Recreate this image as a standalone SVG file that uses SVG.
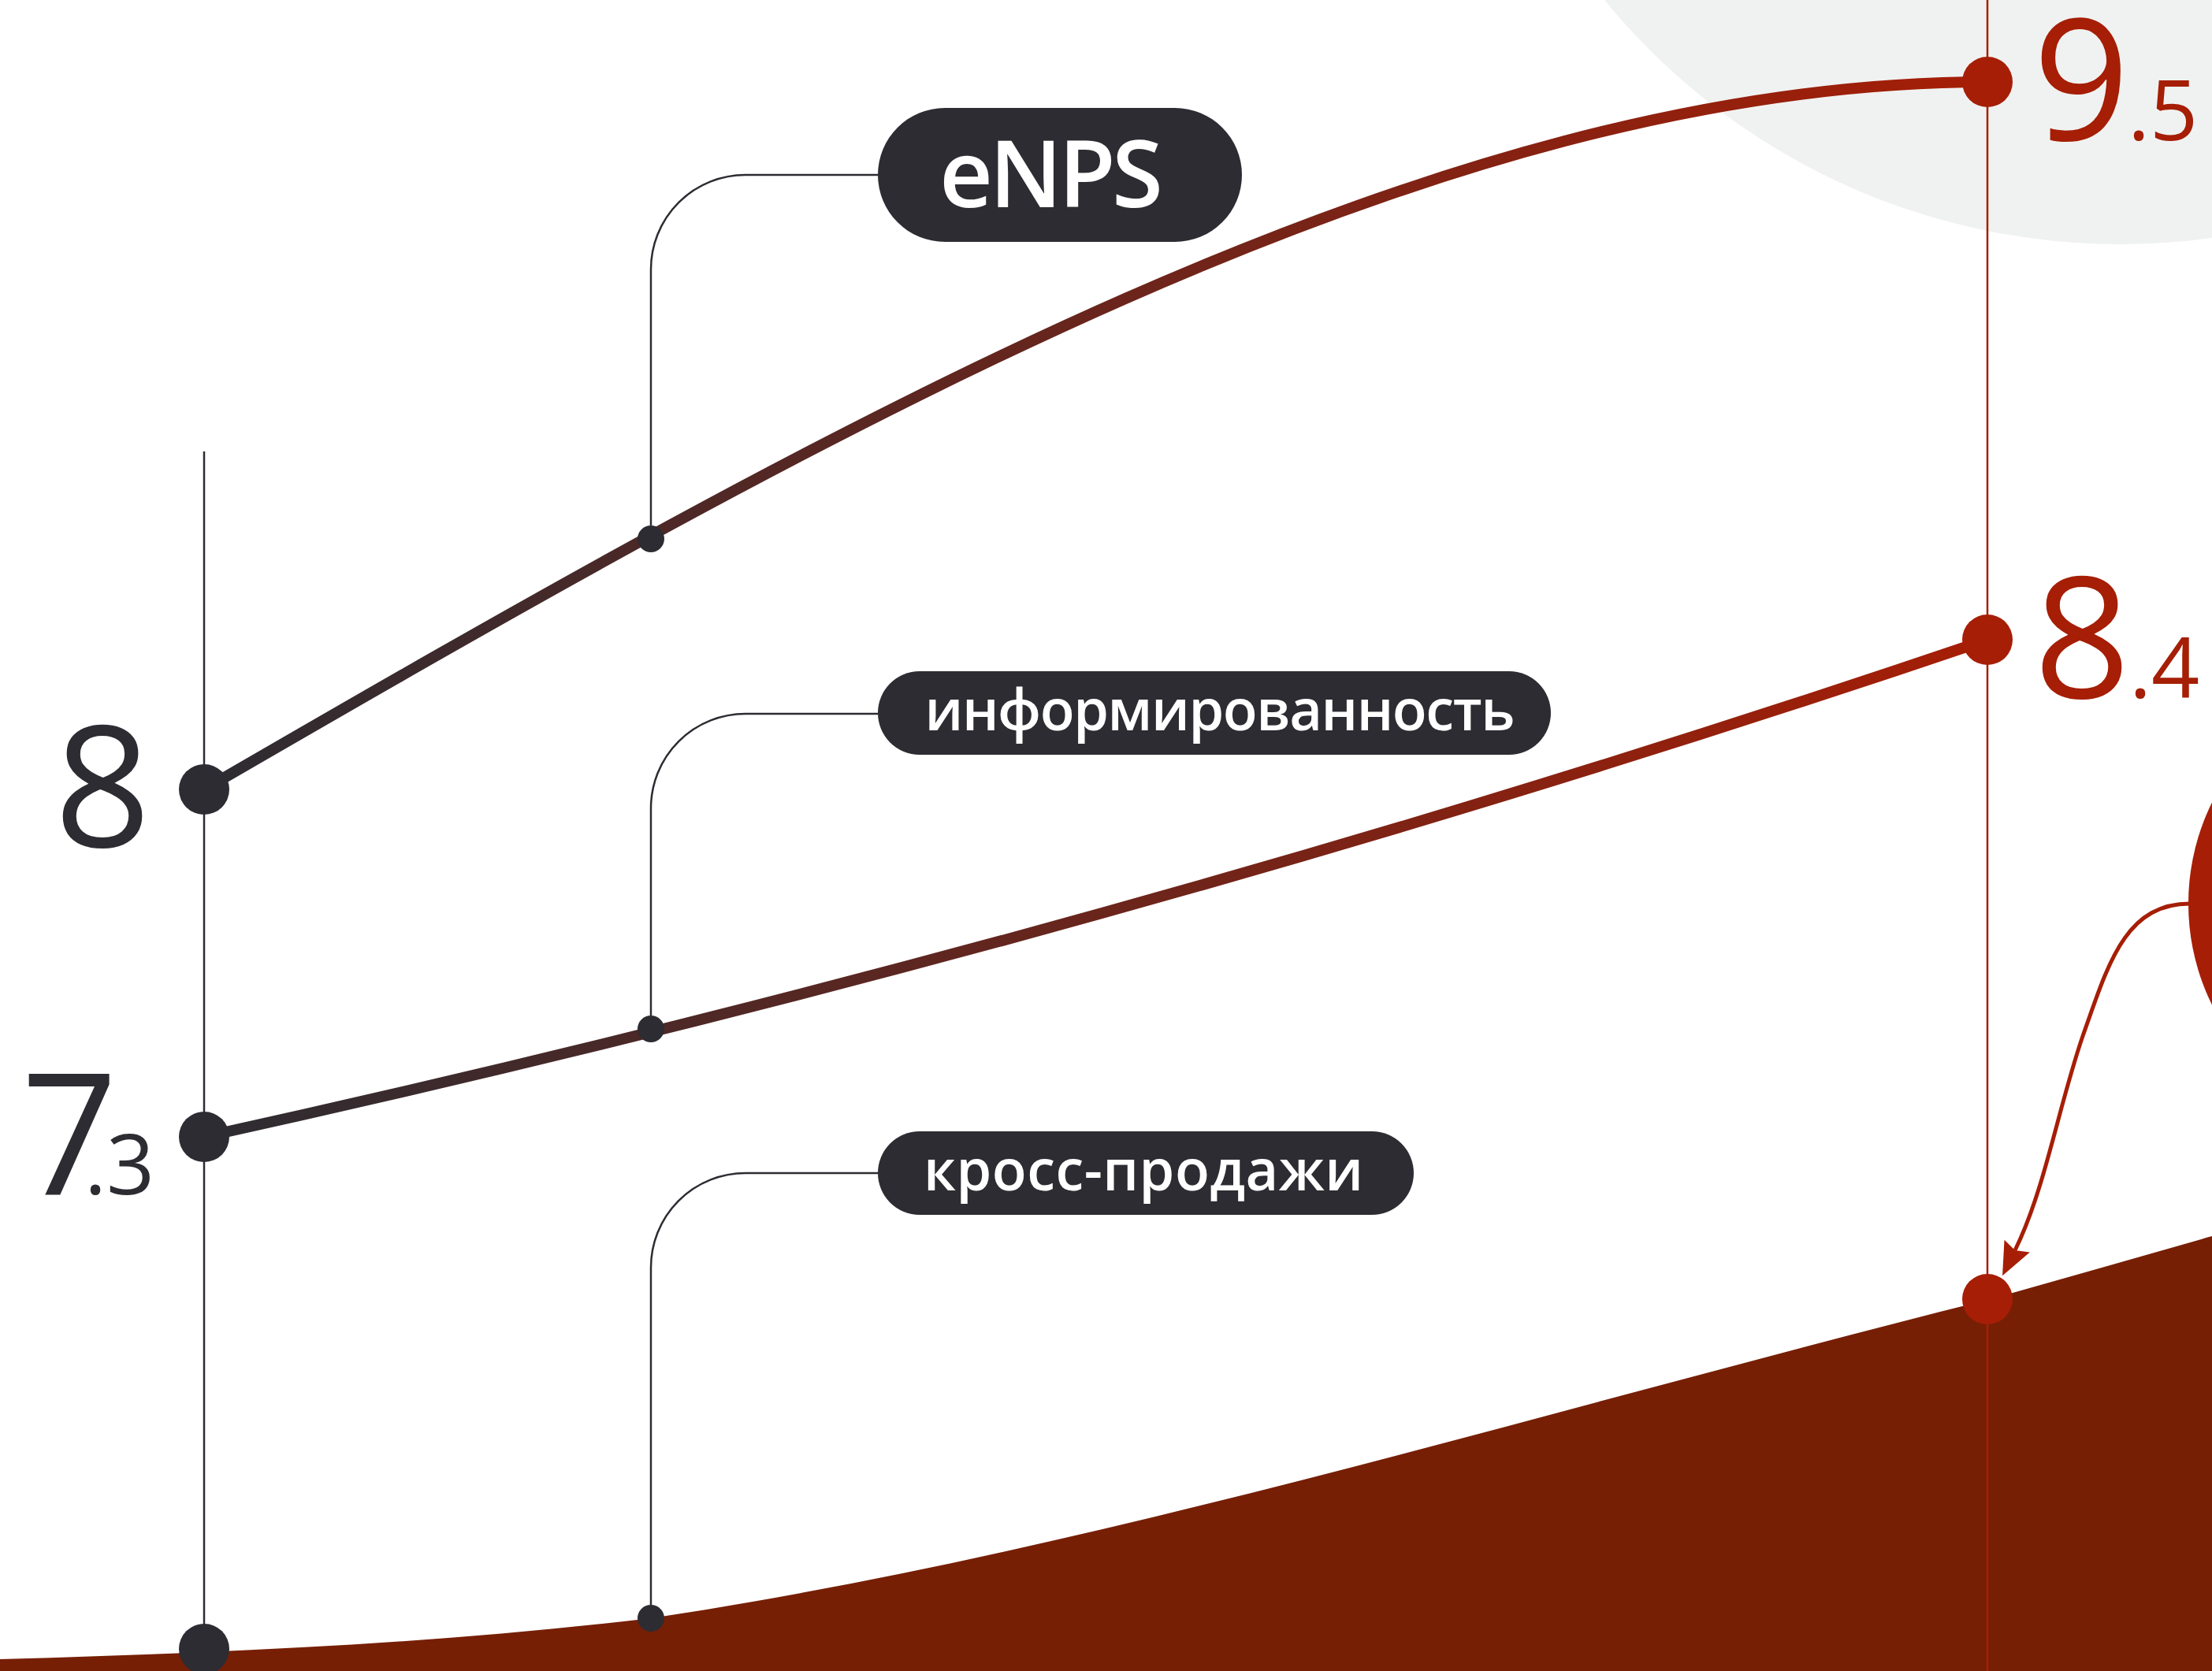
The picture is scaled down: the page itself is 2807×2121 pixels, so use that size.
<svg xmlns="http://www.w3.org/2000/svg" width="2807" height="2121" viewBox="0 0 2807 2121">
<defs>
<style>
.axis{fill:none;stroke:#2d2c32;stroke-width:2.5}
.raxis{fill:none;stroke:#a61e06;stroke-width:2.5}
.conn{fill:none;stroke:#2d2c32;stroke-width:2.5}
.curve{fill:none;stroke:url(#lg);stroke-width:14;stroke-linecap:round}
.dk{fill:#2d2c32}
.rd{fill:#a61e06}
.pill{fill:#2d2c32}
.lbl{fill:#ffffff;font-family:"Open Sans","Noto Sans",sans-serif;font-weight:600;text-anchor:middle}
.big{font-family:"Open Sans","Noto Sans",sans-serif;font-size:214px;font-weight:400}
.sub{font-family:"Open Sans","Noto Sans",sans-serif;font-size:107px;font-weight:400}
.tdk{fill:#2d2c32}
.trd{fill:#a51e05}
</style>
<linearGradient id="lg" gradientUnits="userSpaceOnUse" x1="259" y1="0" x2="2522" y2="0">
<stop offset="0" stop-color="#2d2c32"/>
<stop offset="1" stop-color="#a61e06"/>
</linearGradient>
<marker id="ah" viewBox="-8 -20 46 40" markerWidth="46" markerHeight="40" refX="0" refY="0" markerUnits="userSpaceOnUse" orient="auto">
<path d="M36,0 L-6,-18 L0,0 L-6,18 Z" fill="#a61e06"/>
</marker>
</defs>
<rect x="0" y="0" width="2807" height="2121" fill="#ffffff"/>
<circle id="bg-circle" cx="2690" cy="-535" r="845" fill="#f0f2f1"/>
<path id="area" d="M0,2106 C275,2098 551,2087 826,2054 C1391,1969 1957,1791 2522,1650 C2617,1623 2712,1596 2807,1569 L2807,2121 L0,2121 Z" fill="#761f05"/>
<g id="axes">
<path class="axis" d="M259,573 L259,2121"/>
<path class="raxis" d="M2522,0 L2522,2121"/>
</g>
<g id="connectors">
<path class="conn" d="M826,667 L826,342 A120,120 0 0 1 946,222 L1114,222"/>
<path class="conn" d="M826,1289 L826,1026 A120,120 0 0 1 946,906 L1114,906"/>
<path class="conn" d="M826,2037 L826,1609 A120,120 0 0 1 946,1489 L1114,1489"/>
<path d="M2779,1147 C2696,1147 2675,1225 2643,1315 C2612,1405 2595,1510 2557,1587" fill="none" stroke="#a61e06" stroke-width="5" marker-end="url(#ah)"/>
</g>
<g id="curves">
<path class="curve" d="M259,1002 C1059,538 1822,104 2522,104"/>
<path class="curve" d="M259,1443 Q1412,1189 2522,812"/>
</g>
<g id="dots">
<circle class="dk" cx="259" cy="1002" r="32"/>
<circle class="dk" cx="259" cy="1443" r="32"/>
<circle class="dk" cx="259" cy="2093" r="32"/>
<circle class="dk" cx="826" cy="684" r="17"/>
<circle class="dk" cx="826" cy="1306" r="17"/>
<circle class="dk" cx="826" cy="2054" r="17"/>
<circle class="rd" cx="2522" cy="104" r="32"/>
<circle class="rd" cx="2522" cy="812" r="32"/>
<circle class="rd" cx="2522" cy="1649" r="32"/>
</g>
<g id="node-enps">
<rect class="pill" x="1114" y="137" width="462" height="170" rx="85"/>
<text class="lbl" x="1334" y="263" font-size="118" textLength="284">eNPS</text>
</g>
<g id="node-inform">
<rect class="pill" x="1114" y="852" width="854" height="106" rx="53"/>
<text class="lbl" x="1548" y="927" font-size="72" textLength="749">информированность</text>
</g>
<g id="node-cross">
<rect class="pill" x="1114" y="1436" width="680" height="106" rx="53"/>
<text class="lbl" x="1451" y="1511" font-size="72" textLength="558">кросс-продажи</text>
</g>
<g id="values">
<text class="big tdk" x="69" y="1075">8</text>
<text class="big tdk" x="27" y="1516">7</text>
<text class="sub tdk" x="107" y="1516">.3</text>
<text class="big trd" x="2580" y="178">9</text>
<text class="sub trd" x="2700" y="178">.5</text>
<text class="big trd" x="2581" y="886">8</text>
<text class="sub trd" x="2702" y="886">.4</text>
</g>
<circle id="red-circle" cx="3067" cy="1147" r="290" fill="#a61e06"/>
</svg>
